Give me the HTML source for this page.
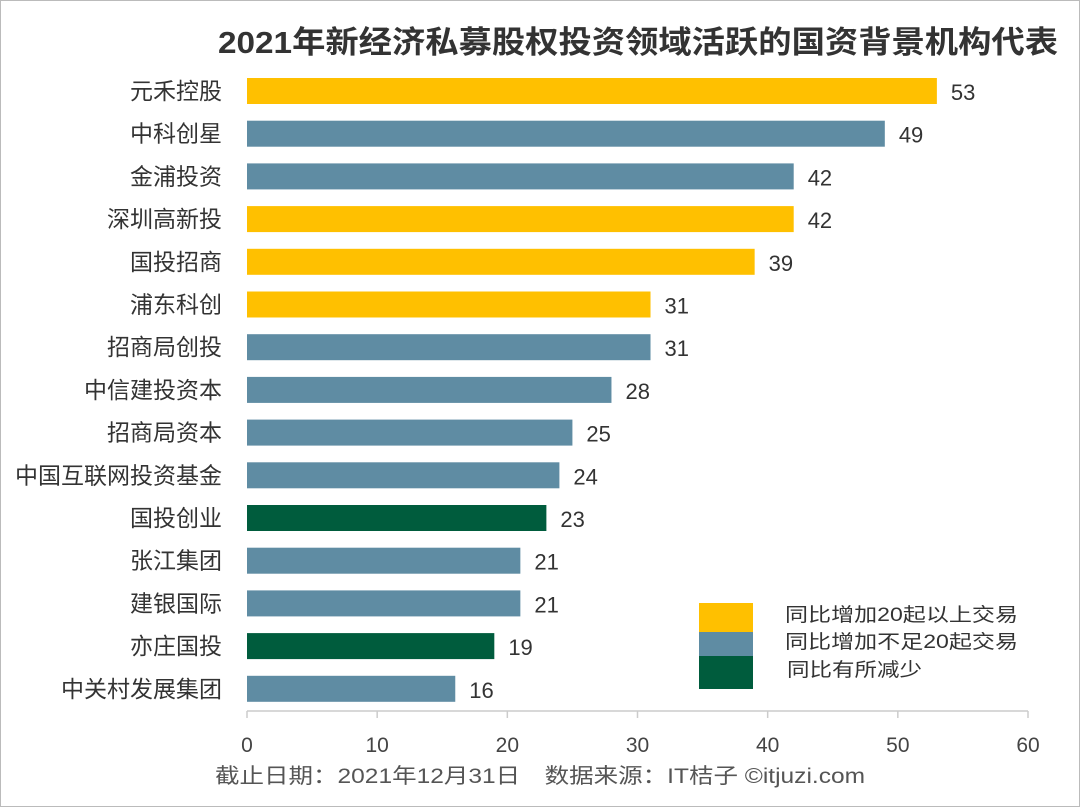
<!DOCTYPE html>
<html><head><meta charset="utf-8"><style>
body{margin:0;background:#fff;}
svg{display:block;font-family:"Liberation Sans","Noto Sans CJK SC",sans-serif;}
</style></head><body>
<svg id="c" width="1080" height="807" viewBox="0 0 1080 807">
<rect x="0.5" y="0.5" width="1079" height="806" fill="#fff" stroke="#bbb"/>
<text x="218" y="53" font-size="31" font-weight="bold" fill="#333" textLength="840" lengthAdjust="spacingAndGlyphs">2021年新经济私募股权投资领域活跃的国资背景机构代表</text>
<g id="bars"></g>
<g id="axis"></g>
<g>
<rect x="699" y="603" width="54" height="29" fill="#FFC000"/>
<rect x="699" y="632" width="54" height="24" fill="#5F8CA3"/>
<rect x="699" y="656" width="54" height="33" fill="#005C3D"/>
<text x="785" y="621" font-size="19" fill="#333" textLength="233" lengthAdjust="spacingAndGlyphs">同比增加20起以上交易</text>
<text x="785" y="648" font-size="19" fill="#333" textLength="233" lengthAdjust="spacingAndGlyphs">同比增加不足20起交易</text>
<text x="787" y="676" font-size="19" fill="#333" textLength="135" lengthAdjust="spacingAndGlyphs">同比有所减少</text>
</g>
<text x="215" y="783" font-size="21" fill="#555" textLength="650" lengthAdjust="spacingAndGlyphs">截止日期：2021年12月31日　数据来源：IT桔子 ©itjuzi.com</text>
</svg>
<script>
const categories=["元禾控股","中科创星","金浦投资","深圳高新投","国投招商","浦东科创","招商局创投","中信建投资本","招商局资本","中国互联网投资基金","国投创业","张江集团","建银国际","亦庄国投","中关村发展集团"];
const values=[53,49,42,42,39,31,31,28,25,24,23,21,21,19,16];
const groups=["y","b","b","y","y","y","b","b","b","b","g","b","b","g","b"];
const ticks=[0,10,20,30,40,50,60];
const colors={y:"#FFC000",b:"#5F8CA3",g:"#005C3D"};
const NS="http://www.w3.org/2000/svg";
const x0=247,x1=1028,xmax=60;
function xs(v){return x0+(x1-x0)*v/xmax;}
function ys(i){return 91+i*42.7;}
const bh=26;
const bars=document.getElementById('bars');
categories.forEach((c,i)=>{
  const r=document.createElementNS(NS,'rect');
  r.setAttribute('x',x0);r.setAttribute('y',ys(i)-bh/2);
  r.setAttribute('width',xs(values[i])-x0);r.setAttribute('height',bh);
  r.setAttribute('fill',colors[groups[i]]);
  
  
  bars.appendChild(r);
  const l=document.createElementNS(NS,'text');
  l.setAttribute('x',222);l.setAttribute('y',ys(i)+8);
  l.setAttribute('text-anchor','end');l.setAttribute('font-size','23');l.setAttribute('fill','#333');
  l.textContent=c;
  
  
  bars.appendChild(l);
  const v=document.createElementNS(NS,'text');
  v.setAttribute('x',xs(values[i])+14);v.setAttribute('y',ys(i)+9);
  v.setAttribute('font-size','22');v.setAttribute('fill','#333');
  v.textContent=values[i];
  
  
  bars.appendChild(v);
});
const ax=document.getElementById('axis');
const ln=document.createElementNS(NS,'line');
ln.setAttribute('x1',x0);ln.setAttribute('x2',x1);ln.setAttribute('y1',711);ln.setAttribute('y2',711);
ln.setAttribute('stroke','#ccc');ln.setAttribute('stroke-width','1.5');


ax.appendChild(ln);
ticks.forEach(t=>{
  const k=document.createElementNS(NS,'line');
  k.setAttribute('x1',xs(t));k.setAttribute('x2',xs(t));k.setAttribute('y1',711);k.setAttribute('y2',718);
  k.setAttribute('stroke','#ccc');k.setAttribute('stroke-width','1.5');
  
  
  ax.appendChild(k);
  const tl=document.createElementNS(NS,'text');
  tl.setAttribute('x',xs(t));tl.setAttribute('y',752);tl.setAttribute('text-anchor','middle');
  tl.setAttribute('font-size','21');tl.setAttribute('fill','#444');
  tl.textContent=t;
  
  
  ax.appendChild(tl);
});
</script>
</body></html>
